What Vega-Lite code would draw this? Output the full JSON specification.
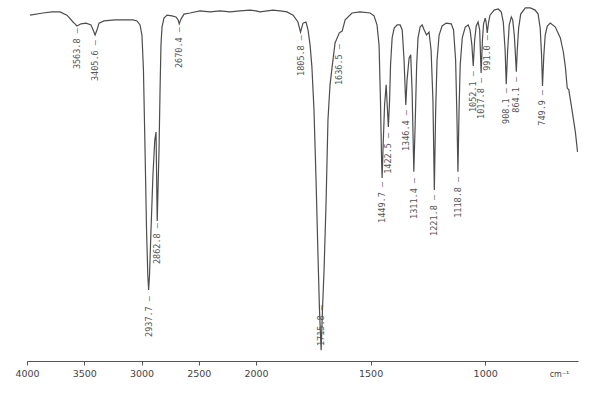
{
  "$schema": "https://vega.github.io/schema/vega-lite/v6.json",
  "width": 551,
  "height": 361,
  "autosize": {"type": "none"},
  "padding": {"left": 27, "top": 0, "right": 18, "bottom": 38},
  "background": "white",
  "config": {"view": {"stroke": null}},
  "datasets": {
    "spectrum": [
      {"wn": 3974, "T": 95.8}, {"wn": 3860, "T": 96.4}, {"wn": 3782, "T": 96.7}, {"wn": 3712, "T": 96.7},
      {"wn": 3651, "T": 95.8}, {"wn": 3598, "T": 93.9}, {"wn": 3581, "T": 93.4}, {"wn": 3563.8, "T": 92.8},
      {"wn": 3528, "T": 93.4}, {"wn": 3485, "T": 93.6}, {"wn": 3441, "T": 93.1}, {"wn": 3419, "T": 91.4},
      {"wn": 3405.6, "T": 90.3}, {"wn": 3389, "T": 91.7}, {"wn": 3371, "T": 93.6}, {"wn": 3328, "T": 94.2},
      {"wn": 3231, "T": 94.5}, {"wn": 3144, "T": 94.5}, {"wn": 3074, "T": 94.5}, {"wn": 3039, "T": 94.2},
      {"wn": 3013, "T": 93.1}, {"wn": 2996, "T": 90.3}, {"wn": 2983, "T": 80.6}, {"wn": 2969, "T": 58.4},
      {"wn": 2956, "T": 36.3}, {"wn": 2945, "T": 23.8}, {"wn": 2937.7, "T": 19.7}, {"wn": 2930, "T": 23.8},
      {"wn": 2917, "T": 36.3}, {"wn": 2900, "T": 51.5}, {"wn": 2884, "T": 61.2}, {"wn": 2873, "T": 63.4},
      {"wn": 2862.8, "T": 38.8}, {"wn": 2847, "T": 58.4}, {"wn": 2838, "T": 75.1}, {"wn": 2830, "T": 87.5},
      {"wn": 2821, "T": 92.5}, {"wn": 2804, "T": 95.0}, {"wn": 2777, "T": 95.8}, {"wn": 2734, "T": 95.6},
      {"wn": 2699, "T": 95.3}, {"wn": 2681, "T": 94.5}, {"wn": 2670.4, "T": 93.4}, {"wn": 2655, "T": 94.7},
      {"wn": 2629, "T": 96.1}, {"wn": 2576, "T": 96.4}, {"wn": 2489, "T": 97.0}, {"wn": 2402, "T": 96.7},
      {"wn": 2314, "T": 97.0}, {"wn": 2227, "T": 96.7}, {"wn": 2140, "T": 97.0}, {"wn": 2052, "T": 97.2},
      {"wn": 2000, "T": 97.0}, {"wn": 1983, "T": 96.7}, {"wn": 1926, "T": 97.2}, {"wn": 1895, "T": 97.0},
      {"wn": 1865, "T": 96.7}, {"wn": 1838, "T": 95.8}, {"wn": 1817, "T": 93.9}, {"wn": 1805.8, "T": 91.1},
      {"wn": 1795, "T": 93.6}, {"wn": 1782, "T": 93.9}, {"wn": 1773, "T": 91.7}, {"wn": 1764, "T": 87.5},
      {"wn": 1756, "T": 81.4}, {"wn": 1747, "T": 69.5}, {"wn": 1738, "T": 50.1}, {"wn": 1729, "T": 28.0},
      {"wn": 1723, "T": 14.1}, {"wn": 1715.8, "T": 3.0}, {"wn": 1710, "T": 14.1}, {"wn": 1703, "T": 25.2},
      {"wn": 1694, "T": 44.6}, {"wn": 1686, "T": 66.8}, {"wn": 1677, "T": 76.5}, {"wn": 1668, "T": 81.4},
      {"wn": 1655, "T": 88.1}, {"wn": 1636.5, "T": 90.9}, {"wn": 1624, "T": 91.4}, {"wn": 1611, "T": 94.5},
      {"wn": 1581, "T": 96.4}, {"wn": 1546, "T": 96.7}, {"wn": 1502, "T": 96.4}, {"wn": 1485, "T": 95.6},
      {"wn": 1472, "T": 93.1}, {"wn": 1463, "T": 87.5}, {"wn": 1457, "T": 72.3}, {"wn": 1452, "T": 55.7},
      {"wn": 1449.7, "T": 50.7}, {"wn": 1446, "T": 58.4}, {"wn": 1439, "T": 70.9}, {"wn": 1432, "T": 76.5},
      {"wn": 1422.5, "T": 64.8}, {"wn": 1417, "T": 72.3}, {"wn": 1413, "T": 82.0}, {"wn": 1406, "T": 89.5},
      {"wn": 1397, "T": 92.2}, {"wn": 1384, "T": 93.1}, {"wn": 1371, "T": 93.1}, {"wn": 1362, "T": 91.7},
      {"wn": 1354, "T": 83.4}, {"wn": 1346.4, "T": 70.9}, {"wn": 1341, "T": 77.8}, {"wn": 1332, "T": 83.9},
      {"wn": 1325, "T": 84.8}, {"wn": 1319, "T": 75.1}, {"wn": 1311.4, "T": 52.4}, {"wn": 1305, "T": 66.8},
      {"wn": 1299, "T": 82.0}, {"wn": 1293, "T": 89.5}, {"wn": 1284, "T": 92.5}, {"wn": 1275, "T": 93.1},
      {"wn": 1266, "T": 91.7}, {"wn": 1256, "T": 90.3}, {"wn": 1245, "T": 91.1}, {"wn": 1236, "T": 86.1},
      {"wn": 1228, "T": 72.3}, {"wn": 1221.8, "T": 47.4}, {"wn": 1216, "T": 69.5}, {"wn": 1210, "T": 83.4},
      {"wn": 1201, "T": 90.3}, {"wn": 1188, "T": 92.8}, {"wn": 1170, "T": 93.6}, {"wn": 1148, "T": 93.4},
      {"wn": 1138, "T": 91.7}, {"wn": 1129, "T": 83.4}, {"wn": 1123, "T": 66.8}, {"wn": 1118.8, "T": 52.4},
      {"wn": 1114, "T": 69.5}, {"wn": 1109, "T": 82.0}, {"wn": 1100, "T": 89.5}, {"wn": 1087, "T": 92.5},
      {"wn": 1074, "T": 93.1}, {"wn": 1066, "T": 91.7}, {"wn": 1058, "T": 87.5}, {"wn": 1052.1, "T": 81.7},
      {"wn": 1046, "T": 88.9}, {"wn": 1039, "T": 92.8}, {"wn": 1031, "T": 93.9}, {"wn": 1024, "T": 91.7},
      {"wn": 1017.8, "T": 79.8}, {"wn": 1012, "T": 88.9}, {"wn": 1007, "T": 93.4}, {"wn": 1000, "T": 95.0},
      {"wn": 996, "T": 93.9}, {"wn": 991.0, "T": 90.9}, {"wn": 985, "T": 93.9}, {"wn": 979, "T": 95.8},
      {"wn": 961, "T": 97.2}, {"wn": 943, "T": 97.5}, {"wn": 930, "T": 96.7}, {"wn": 921, "T": 93.9},
      {"wn": 913, "T": 86.1}, {"wn": 908.1, "T": 76.7}, {"wn": 902, "T": 86.1}, {"wn": 895, "T": 93.1},
      {"wn": 886, "T": 95.3}, {"wn": 880, "T": 94.5}, {"wn": 873, "T": 90.3}, {"wn": 868, "T": 84.8},
      {"wn": 864.1, "T": 80.1}, {"wn": 860, "T": 86.1}, {"wn": 854, "T": 92.2}, {"wn": 845, "T": 96.1},
      {"wn": 825, "T": 97.8}, {"wn": 803, "T": 97.8}, {"wn": 782, "T": 97.2}, {"wn": 769, "T": 96.1},
      {"wn": 760, "T": 92.2}, {"wn": 754, "T": 84.8}, {"wn": 749.9, "T": 76.2}, {"wn": 744, "T": 84.8},
      {"wn": 738, "T": 90.3}, {"wn": 729, "T": 92.8}, {"wn": 716, "T": 93.6}, {"wn": 694, "T": 92.5},
      {"wn": 672, "T": 89.5}, {"wn": 659, "T": 85.6}, {"wn": 650, "T": 81.4}, {"wn": 642, "T": 75.6},
      {"wn": 635, "T": 75.1}, {"wn": 621, "T": 69.5}, {"wn": 606, "T": 63.2}, {"wn": 597, "T": 57.9}
    ],
    "peaks": [
      {"wn": 3563.8, "T": 92.2, "label": "3563.8 –"},
      {"wn": 3405.6, "T": 88.9, "label": "3405.6 –"},
      {"wn": 2937.7, "T": 18.0, "label": "2937.7 –"},
      {"wn": 2862.8, "T": 38.2, "label": "2862.8 –"},
      {"wn": 2670.4, "T": 92.5, "label": "2670.4 –"},
      {"wn": 1805.8, "T": 90.3, "label": "1805.8 –"},
      {"wn": 1715.8, "T": 15.5, "label": "1715.8 –"},
      {"wn": 1636.5, "T": 87.8, "label": "1636.5 –"},
      {"wn": 1449.7, "T": 49.6, "label": "1449.7 –"},
      {"wn": 1422.5, "T": 63.2, "label": "1422.5 –"},
      {"wn": 1346.4, "T": 69.5, "label": "1346.4 –"},
      {"wn": 1311.4, "T": 50.7, "label": "1311.4 –"},
      {"wn": 1221.8, "T": 46.0, "label": "1221.8 –"},
      {"wn": 1118.8, "T": 51.0, "label": "1118.8 –"},
      {"wn": 1052.1, "T": 80.3, "label": "1052.1 –"},
      {"wn": 1017.8, "T": 78.4, "label": "1017.8 –"},
      {"wn": 991.0, "T": 90.3, "label": "991.0 –"},
      {"wn": 908.1, "T": 75.6, "label": "908.1 –"},
      {"wn": 864.1, "T": 78.7, "label": "864.1 –"},
      {"wn": 749.9, "T": 75.1, "label": "749.9 –"}
    ]
  },
  "layer": [
    {
      "data": {"name": "spectrum"},
      "mark": {"type": "line", "stroke": "#4d4d4d", "strokeWidth": 1.2, "clip": true},
      "encoding": {
        "x": {
          "field": "wn", "type": "quantitative",
          "scale": {"domain": [4000, 2000, 595], "range": [0, 229, 551], "nice": false, "zero": false},
          "axis": {
            "values": [4000, 3500, 3000, 2500, 2000, 1500, 1000],
            "format": "d",
            "grid": false,
            "labelFlush": false,
            "labelOverlap": false,
            "domainColor": "#555555",
            "tickColor": "#555555",
            "tickSize": 4,
            "labelFont": "DejaVu Sans",
            "labelFontSize": 9.5,
            "labelColor": "#444444",
            "labelPadding": 3,
            "title": "cm⁻¹",
            "titleFont": "DejaVu Sans",
            "titleFontSize": 8,
            "titleFontWeight": "normal",
            "titleColor": "#444444",
            "titleAngle": 0,
            "titleX": 532,
            "titleY": 13,
            "titleAlign": "center",
            "titleBaseline": "middle"
          }
        },
        "y": {"field": "T", "type": "quantitative", "scale": {"domain": [0, 100]}, "axis": null}
      }
    },
    {
      "data": {"name": "peaks"},
      "mark": {"type": "text", "angle": 270, "align": "right", "baseline": "middle", "font": "DejaVu Sans Mono", "fontSize": 8.5, "fill": "#555555"},
      "encoding": {
        "x": {"field": "wn", "type": "quantitative"},
        "y": {"field": "T", "type": "quantitative"},
        "text": {"field": "label"}
      }
    }
  ]
}
